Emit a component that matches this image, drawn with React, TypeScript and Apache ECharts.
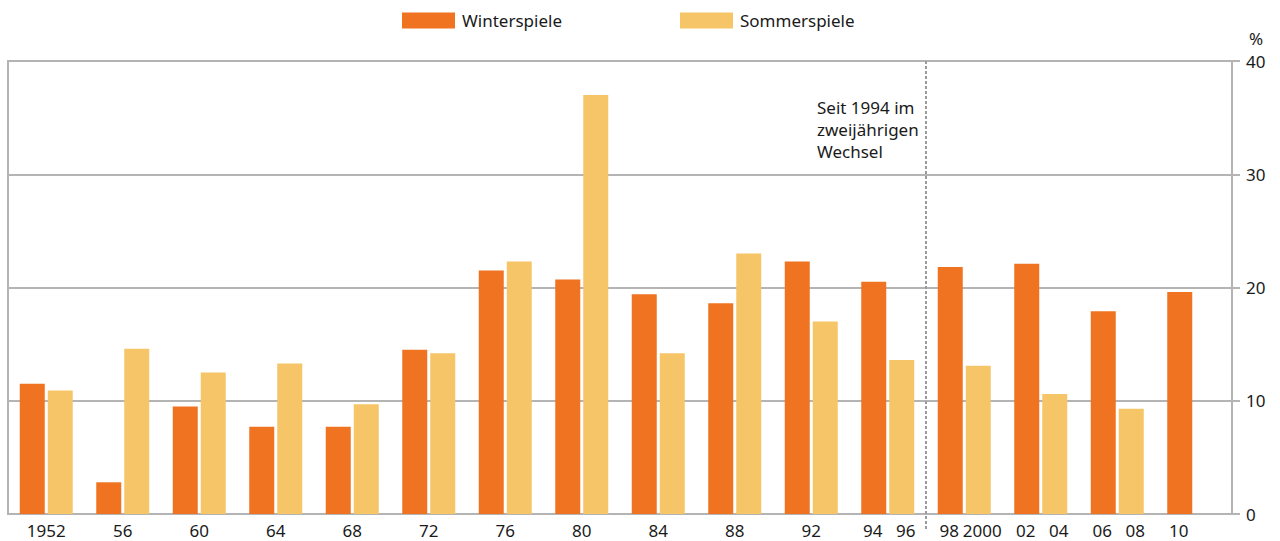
import React, { useEffect, useRef } from "react";
import * as echarts from "echarts";

const categories = ["1952", "56", "60", "64", "68", "72", "76", "80", "84", "88", "92", "94|96", "98|2000", "02|04", "06|08", "10|"];
const winterValues = [11.5, 2.8, 9.5, 7.7, 7.7, 14.5, 21.5, 20.7, 19.4, 18.6, 22.3, 20.5, 21.8, 22.1, 17.9, 19.6];
const summerValues: (number | null)[] = [10.9, 14.6, 12.5, 13.3, 9.7, 14.2, 22.3, 37.0, 14.2, 23.0, 17.0, 13.6, 13.1, 10.6, 9.3, null];
const yTicks = { min: 0, max: 40, interval: 10 };
const seriesNames = ["Winterspiele", "Sommerspiele"];
const noteText = "Seit 1994 im\nzweijährigen\nWechsel";
const alternationStartIndex = 12;

const FONT = "'Noto Sans', sans-serif";
const TEXT = "#1a1a1a";
const GRAY = "#b4b4b4";
const FS = 17;

export default function App() {
  const ref = useRef<HTMLDivElement>(null);
  useEffect(() => {
    if (!ref.current) return;
    const chart = echarts.init(ref.current, null, { renderer: "svg" });
    const gridLeft = 8, gridRight = 48, gridTop = 61, gridBottom = 27;
    const W = 1280, H = 541;
    const plotW = W - gridLeft - gridRight;
    const sepX = gridLeft + (plotW * alternationStartIndex) / categories.length;
    chart.setOption({
      animation: false,
      textStyle: { fontFamily: FONT, color: TEXT },
      legend: {
        top: 7,
        left: 397,
        itemWidth: 53,
        itemHeight: 16,
        itemGap: 118,
        icon: "rect",
        textStyle: { fontFamily: FONT, fontSize: FS, color: TEXT, padding: [0, 0, 0, 2] },
        data: seriesNames,
      },
      grid: {
        left: gridLeft,
        right: gridRight,
        top: gridTop,
        bottom: gridBottom,
        show: true,
        borderColor: GRAY,
        borderWidth: 2,
        containLabel: false,
      },
      xAxis: {
        type: "category",
        data: categories,
        axisLine: { show: true, lineStyle: { color: GRAY, width: 2 } },
        axisTick: { show: false },
        axisLabel: {
          margin: 8,
          fontFamily: FONT,
          fontSize: FS,
          color: TEXT,
          interval: 0,
          formatter: (v: string) => {
            if (v.includes("|")) {
              const [a, b] = v.split("|");
              return `{w|${a}}{s|${b || "\u00a0"}}`;
            }
            return v;
          },
          rich: {
            w: { width: 36, align: "center", fontFamily: FONT, fontSize: FS, color: TEXT },
            s: { width: 30, align: "center", fontFamily: FONT, fontSize: FS, color: TEXT },
          },
        },
      },
      yAxis: {
        type: "value",
        position: "right",
        min: yTicks.min,
        max: yTicks.max,
        interval: yTicks.interval,
        name: "%",
        nameLocation: "end",
        nameGap: 14,
        nameTextStyle: { fontFamily: FONT, fontSize: FS, color: TEXT, align: "left", padding: [0, 0, 0, 17] },
        axisLine: { show: true, lineStyle: { color: GRAY, width: 2 } },
        axisTick: { show: true, length: 8, lineStyle: { color: GRAY, width: 2 } },
        axisLabel: { margin: 14, fontFamily: FONT, fontSize: FS, color: TEXT },
        splitLine: { show: true, lineStyle: { color: GRAY, width: 2 } },
      },
      series: [
        {
          name: seriesNames[0],
          type: "bar",
          data: winterValues,
          barWidth: 25,
          barGap: "12%",
          itemStyle: { color: "#F07322" },
        },
        {
          name: seriesNames[1],
          type: "bar",
          data: summerValues,
          barWidth: 25,
          itemStyle: { color: "#F6C567" },
        },
      ],
      graphic: [
        {
          type: "line",
          shape: { x1: sepX, y1: gridTop, x2: sepX, y2: H - 11 },
          style: { stroke: "#9a9a9a", lineWidth: 2, lineDash: [3, 2] },
          z: 10,
        },
        {
          type: "text",
          x: sepX - 109,
          y: 96,
          style: {
            text: noteText,
            fontFamily: FONT,
            fontSize: FS,
            lineHeight: 22,
            fill: TEXT,
            align: "left",
            verticalAlign: "top",
          },
        },
      ],
    });
    return () => chart.dispose();
  }, []);
  return (
    <div
      ref={ref}
      style={{ position: "fixed", left: 0, top: 0, width: 1280, height: 541, background: "#fff" }}
    />
  );
}
